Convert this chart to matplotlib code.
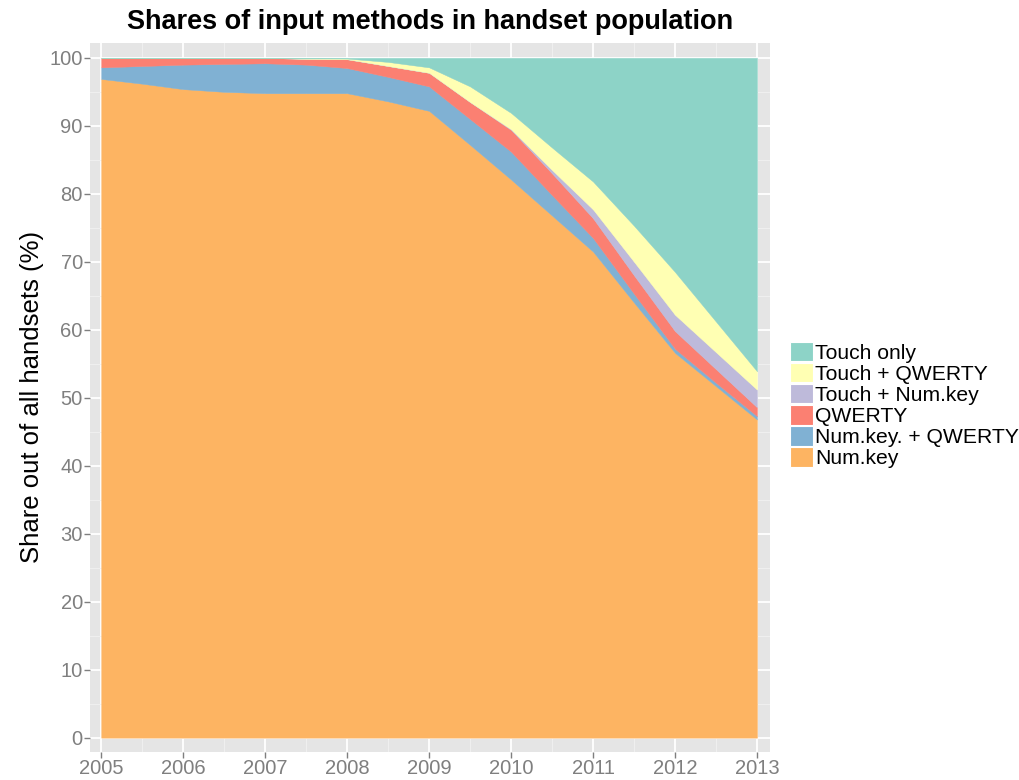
import matplotlib
matplotlib.use("Agg")
import matplotlib.pyplot as plt
from matplotlib.patches import Patch
from matplotlib.ticker import MultipleLocator

plt.rcParams["font.family"] = ["Liberation Sans", "DejaVu Sans"]

# half-year points (% of handset population)
years = [2005, 2005.5, 2006, 2006.5, 2007, 2007.5, 2008, 2008.5, 2009,
         2009.5, 2010, 2010.5, 2011, 2011.5, 2012, 2012.5, 2013]
num_key = [96.9, 96.2, 95.4, 95.0, 94.8, 94.8, 94.8, 93.6, 92.2,
           87.2, 82.1, 76.8, 71.5, 64.0, 56.6, 51.7, 46.8]
num_key_qwerty = [1.7, 2.6, 3.6, 4.1, 4.4, 4.2, 3.7, 3.6, 3.6,
                  3.8, 4.1, 3.0, 2.0, 1.3, 0.6, 0.5, 0.5]
qwerty = [1.4, 1.2, 1.0, 0.9, 0.8, 0.85, 1.3, 1.6, 2.0,
          2.5, 3.2, 3.2, 2.9, 2.7, 2.6, 2.0, 1.3]
touch_num_key = [0, 0, 0, 0, 0, 0, 0, 0, 0,
                 0, 0.1, 0.5, 1.3, 2.0, 2.4, 2.5, 2.6]
touch_qwerty = [0, 0, 0, 0, 0, 0.1, 0.1, 0.6, 0.8,
                2.3, 2.4, 3.3, 4.1, 5.3, 6.3, 4.5, 2.7]
touch_only = [0, 0, 0, 0, 0, 0.05, 0.1, 0.6, 1.4,
              4.2, 8.1, 13.2, 18.2, 24.7, 31.5, 38.8, 46.1]

labels = ["Num.key", "Num.key. + QWERTY", "QWERTY",
          "Touch + Num.key", "Touch + QWERTY", "Touch only"]
colors = ["#FDB462", "#80B1D3", "#FB8072", "#BEBADA", "#FFFFB3", "#8DD3C7"]
x_ticks = [2005, 2006, 2007, 2008, 2009, 2010, 2011, 2012, 2013]

fig = plt.figure(figsize=(10.2, 7.8), dpi=100)
ax = fig.add_axes([0.088, 0.036, 0.667, 0.909])
ax.set_facecolor("#E5E5E5")

ax.stackplot(years, num_key, num_key_qwerty, qwerty, touch_num_key,
             touch_qwerty, touch_only, colors=colors,
             edgecolor="face", linewidth=0.3, zorder=3)

ax.set_xlim(2004.86, 2013.16)
ax.set_ylim(-2.1, 102.2)
ax.set_xticks(x_ticks)
ax.xaxis.set_minor_locator(MultipleLocator(0.5))
ax.yaxis.set_major_locator(MultipleLocator(10))
ax.yaxis.set_minor_locator(MultipleLocator(5))
ax.grid(which="major", color="white", linewidth=1.3, zorder=0)
ax.grid(which="minor", color="#F2F2F2", linewidth=0.6, zorder=0)
ax.set_axisbelow(True)
for s in ax.spines.values():
    s.set_visible(False)
ax.tick_params(which="major", length=4, color="#7F7F7F", width=1,
               labelsize=14.5, labelcolor="#7F7F7F", pad=1)
ax.tick_params(which="minor", length=0)

ax.set_ylabel("Share out of all handsets (%)", fontsize=18.5, labelpad=4)
ax.set_title("Shares of input methods in handset population",
             fontsize=19.5, fontweight="bold", pad=10)

handles = [Patch(facecolor=c, edgecolor="white", linewidth=0.8) for c in colors]
fig.legend(handles[::-1], labels[::-1], loc="center left",
           bbox_to_anchor=(0.775, 0.481), frameon=False, fontsize=15.2,
           handlelength=1.06, handleheight=1.06, handletextpad=0.12,
           labelspacing=0.0, borderaxespad=0, borderpad=0)

fig.savefig("out.png", dpi=100)
